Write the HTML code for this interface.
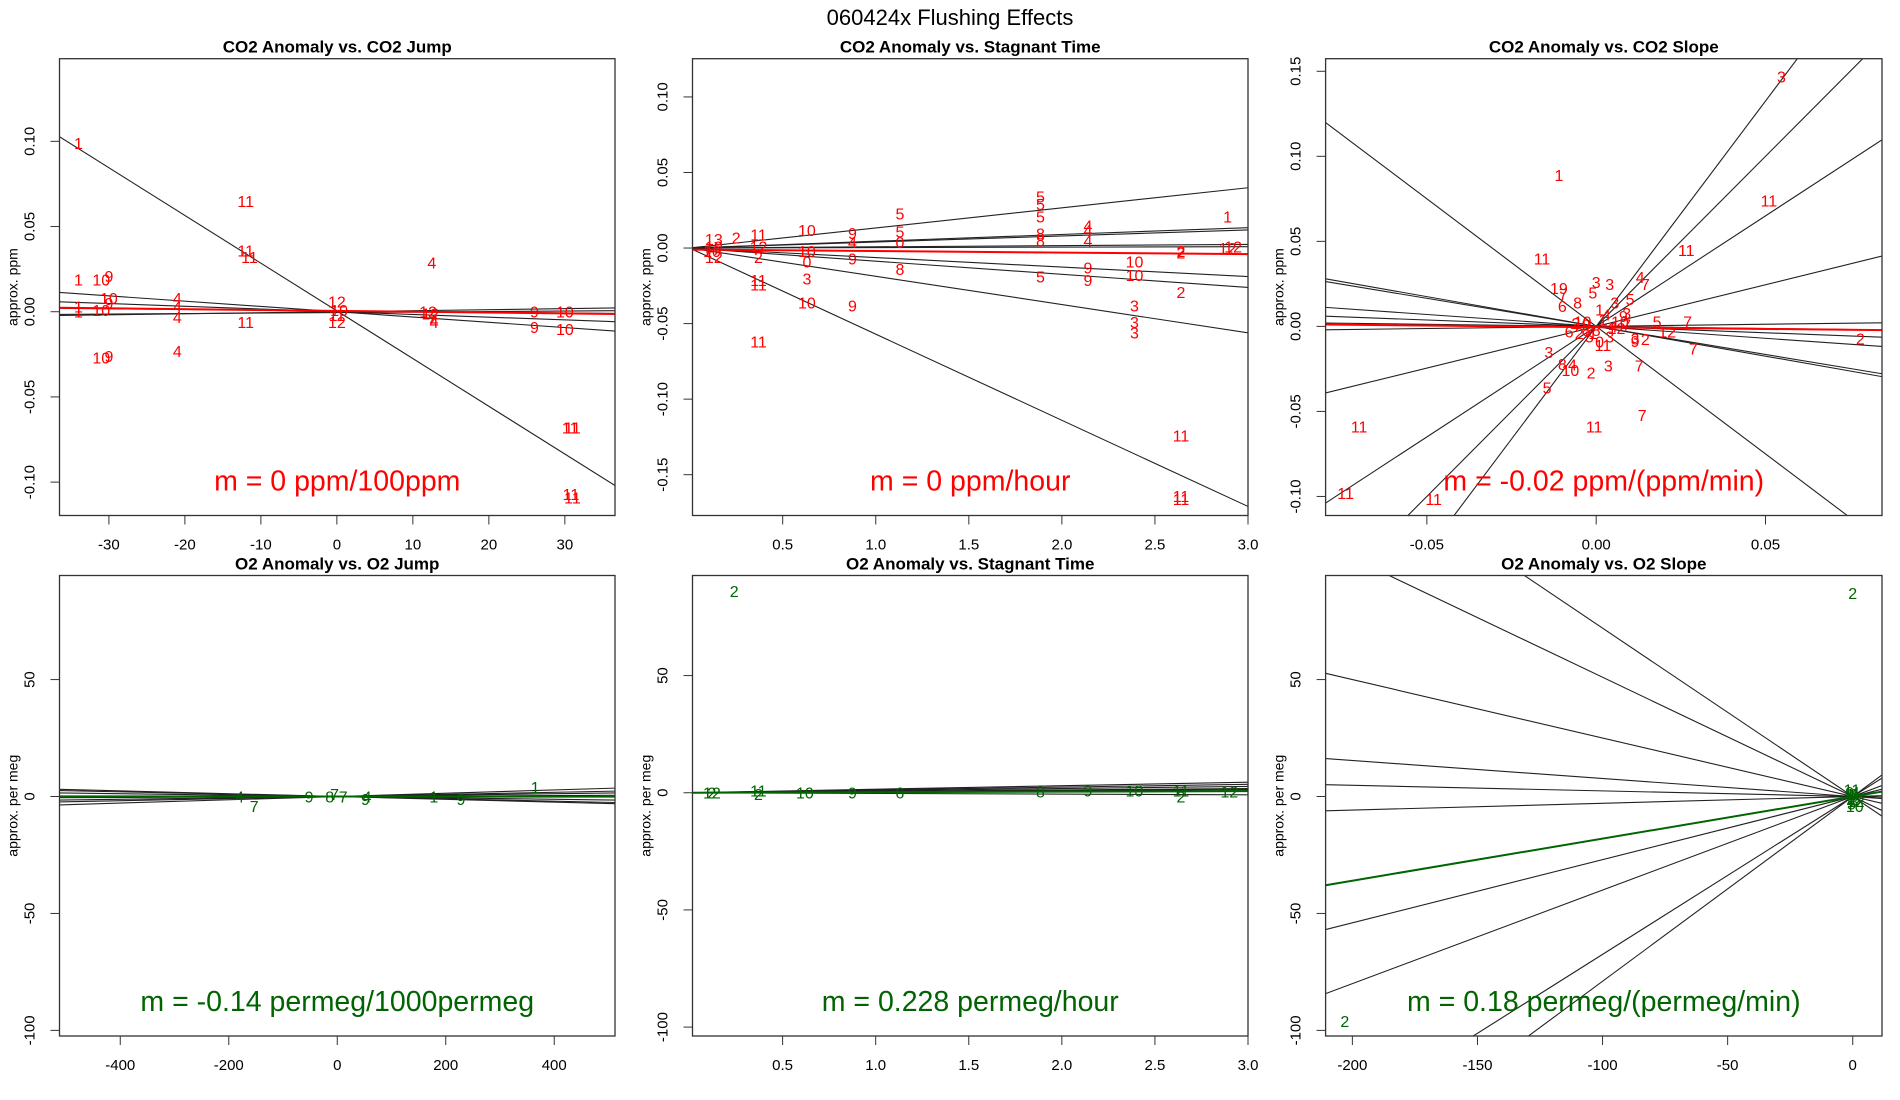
<!DOCTYPE html>
<html><head><meta charset="utf-8"><style>
html,body{margin:0;padding:0;background:#fff;width:1900px;height:1100px;overflow:hidden;}
svg{display:block;font-family:"Liberation Sans",sans-serif;}
</style></head><body>
<svg id="chart" width="1900" height="1100" viewBox="0 0 1900 1100" xmlns="http://www.w3.org/2000/svg">
<rect width="1900" height="1100" fill="#fff"/>
<text x="950" y="25" font-size="22" text-anchor="middle">060424x    Flushing Effects</text>
</svg>
<script>
// ---------- Panel 1: CO2 Anomaly vs CO2 Jump ----------
const p1Labels=["1","11","11","11","1","10","9","10","9","1","1","10","4","4","4","11","4","10","9","12","12","10","11","4","12","12","4","4","9","9","10","10","11","11","11","11"];
const p1X=[-34,-12,-12,-11.5,-34,-31,-30,-30,-30,-34,-34,-31,-21,-21,-21,-12,-21,-31,-30,0,0,0.3,0,12.5,12,12.3,12.8,12.8,26,26,30,30,31,30.7,31,30.8];
const p1Y=[0.099,0.065,0.036,0.032,0.019,0.019,0.021,0.008,0.005,0.003,0,0.001,0.008,0.003,-0.003,-0.006,-0.023,-0.027,-0.026,0.006,-0.006,0.001,-0.002,0.029,0,-0.001,-0.005,-0.006,0,-0.009,0,-0.01,-0.068,-0.068,-0.109,-0.107];
const p1Slopes=[-0.0028,-0.00031,-0.00016,0.00006,-0.00004,0.00003];
const p1Ints=[0.0005,0,0,0,0.0005,-0.0005];
const p1Fit=[0.0005,-0.00005];
const p1XTicks=[-30,-20,-10,0,10,20,30];
const p1YTicks=[-0.10,-0.05,0.00,0.05,0.10];
const p1YTickLabels=["-0.10","-0.05","0.00","0.05","0.10"];

// ---------- Panel 2: CO2 Anomaly vs Stagnant Time ----------
const p2Labels=["13","2","11","10","9","5","5","5","5","5","8","4","4","1","12","2","12","2","10","0","9","8","11","11","3","10","9","11","5","9","9","10","10","2","3","3","3","11","11","11","4","0","8","10","12","2","10","4","12"];
const p2X=[0.13,0.25,0.37,0.63,0.875,1.13,1.13,1.885,1.885,1.885,1.885,2.14,2.14,2.89,2.89,2.64,0.13,0.37,0.63,0.63,0.875,1.13,0.37,0.37,0.63,0.63,0.875,0.37,1.885,2.14,2.14,2.39,2.39,2.64,2.39,2.39,2.39,2.64,2.64,2.64,0.875,1.13,1.885,0.13,2.92,2.64,0.12,2.14,0.37];
const p2Y=[0.006,0.007,0.009,0.012,0.010,0.023,0.011,0.034,0.029,0.021,0.0095,0.015,0.005,0.021,0,-0.002,-0.006,-0.006,-0.002,-0.009,-0.007,-0.014,-0.021,-0.024,-0.020,-0.036,-0.038,-0.062,-0.019,-0.013,-0.021,-0.009,-0.018,-0.029,-0.038,-0.049,-0.056,-0.124,-0.164,-0.166,0.004,0.004,0.005,0.001,0.001,-0.003,-0.002,0.012,0.001];
const p2Slopes=[0.0133,0.0045,0.004,0.0008,0.0003,-0.0063,-0.0087,-0.0187,-0.057];
const p2Ints=[0,0,0,0,0,0,0,0,0];
const p2Fit=[-0.001,-0.001];
const p2XTicks=[0.5,1.0,1.5,2.0,2.5,3.0];
const p2XTickLabels=["0.5","1.0","1.5","2.0","2.5","3.0"];
const p2YTicks=[-0.15,-0.10,-0.05,0.00,0.05,0.10];
const p2YTickLabels=["-0.15","-0.10","-0.05","0.00","0.05","0.10"];

// ---------- Panel 3: CO2 Anomaly vs CO2 Slope ----------
const p3Labels=["3","1","11","11","11","19","7","3","3","5","4","7","5","8","6","3","1","5","7","12","2","7","3","8","4","10","2","3","7","5","7","11","11","11","11","3","9","2","2","10","8","4","1","9","6","12","3","5","0","1","7","2","4","10","11","9","8","3"];
const p3X=[0.0547,-0.011,0.051,0.0266,-0.016,-0.011,-0.0097,0,0.004,-0.001,0.013,0.0145,0.010,-0.0055,-0.010,0.0055,0.001,0.018,0.027,0.021,0.078,0.0287,-0.014,-0.010,-0.007,-0.0076,-0.0015,0.0036,0.0127,-0.0145,0.0136,-0.0006,-0.070,-0.074,-0.048,0.0115,0.0115,0.0145,-0.006,-0.004,-0.003,0.003,0.002,0.008,-0.008,0.006,0.004,-0.002,0.001,-0.001,0.009,-0.005,0.005,0.007,0.002,-0.003,0.0,0.009];
const p3Y=[0.147,0.089,0.074,0.045,0.040,0.0225,0.019,0.026,0.025,0.020,0.029,0.025,0.016,0.014,0.012,0.014,0.010,0.003,0.003,-0.003,-0.007,-0.013,-0.015,-0.022,-0.0225,-0.0256,-0.027,-0.023,-0.023,-0.036,-0.052,-0.059,-0.059,-0.098,-0.1015,-0.007,-0.0085,-0.0075,0.002,0.003,-0.002,0.007,0.004,0.006,-0.003,-0.001,-0.006,-0.006,-0.009,-0.004,0.001,-0.004,0.0,0.003,-0.011,0.001,-0.002,0.008];
const p3Slopes=[2.65,2.0,1.3,0.49,-1.5,-0.35,-0.33,-0.14,-0.075,-0.025,0.025];
const p3Ints=[0,0,0,0,0,0,0,0,0,0,0];
const p3Fit=[-0.0005,-0.02];
const p3XTicks=[-0.05,0,0.05];
const p3XTickLabels=["-0.05","0.00","0.05"];
const p3YTicks=[-0.10,-0.05,0.00,0.05,0.10,0.15];
const p3YTickLabels=["-0.10","-0.05","0.00","0.05","0.10","0.15"];

// ---------- Panel 4: O2 Anomaly vs O2 Jump ----------
const p4Labels=["4","7","9","8","7","9","1","9","1","7","4"];
const p4X=[-180,-153,-52,-14,11,52,178,228,365,-5,55];
const p4Y=[0,-4,0,0,0,-1,0,-1,4,1,0];
const p4Slopes=[0.007,-0.005,0.003,-0.003,0.001,-0.006,0.0045];
const p4Ints=[0,0,0,0,0,0,0];
const p4Fit=[0,-0.00014];
const p4XTicks=[-400,-200,0,200,400];
const p4YTicks=[-100,-50,0,50];

// ---------- Panel 5: O2 Anomaly vs Stagnant Time ----------
const p5Labels=["12","2","11","2","10","9","6","8","9","10","11","2","12","2"];
const p5X=[0.12,0.12,0.37,0.37,0.62,0.875,1.13,1.885,2.14,2.39,2.64,2.64,2.9,0.24];
const p5Y=[0,0,1,-0.5,0,0,0,0.5,1,1,1,-1.5,0.5,86];
const p5Slopes=[0.3,0.6,0.9,1.2,1.5,-0.3,0.45];
const p5Ints=[0,0,0,0,0,0,0];
const p5Fit=[0,0.228];
const p5XTicks=[0.5,1.0,1.5,2.0,2.5,3.0];
const p5XTickLabels=["0.5","1.0","1.5","2.0","2.5","3.0"];
const p5YTicks=[-100,-50,0,50];

// ---------- Panel 6: O2 Anomaly vs O2 Slope ----------
const p6Labels=["2","2","1","3","4","5","7","8","9","10","11","12","6","2"];
const p6X=[0,-203,-1,0.5,1,-0.5,0,1.5,-1.2,0.8,-0.3,1.2,0.2,-0.8];
const p6Y=[87,-96,1,-2,2,-3,0,-1,2,-4,3,-2,1,-1];
const p6Slopes=[-0.51,-0.72,-0.25,-0.077,-0.024,0.029,0.27,0.40,0.675,0.79];
const p6Ints=[0,0,0,0,0,0,0,0,0,0];
const p6Fit=[0,0.18];
const p6XTicks=[-200,-150,-100,-50,0];
const p6YTicks=[-100,-50,0,50];

const NS="http://www.w3.org/2000/svg";
const svg=document.getElementById("chart");
function mk(tag,attrs,parent){const e=document.createElementNS(NS,tag);for(const k in attrs)e.setAttribute(k,attrs[k]);(parent||svg).appendChild(e);return e;}

function panel(id,box,xlim,ylim,title,ylab,labels,xs,ys,slopes,ints,fit,color,xt,xtl,yt,ytl,ann){
  const g=mk("g",{});
  
  
  const [L,R,T,B]=box;
  const sx=v=>L+(v-xlim[0])/(xlim[1]-xlim[0])*(R-L);
  const sy=v=>B-(v-ylim[0])/(ylim[1]-ylim[0])*(B-T);
  const cp=mk("clipPath",{id:id+"-clip"},g);
  mk("rect",{x:L,y:T,width:R-L,height:B-T},cp);
  const plot=mk("g",{"clip-path":"url(#"+id+"-clip)"},g);
  for(let i=0;i<slopes.length;i++){
    const l=mk("line",{x1:sx(xlim[0]),y1:sy(ints[i]+slopes[i]*xlim[0]),x2:sx(xlim[1]),y2:sy(ints[i]+slopes[i]*xlim[1]),stroke:"#222","stroke-width":1.1},plot);
    
    
  }
  const fl=mk("line",{x1:sx(xlim[0]),y1:sy(fit[0]+fit[1]*xlim[0]),x2:sx(xlim[1]),y2:sy(fit[0]+fit[1]*xlim[1]),stroke:color,"stroke-width":2},plot);
  
  
  for(let i=0;i<labels.length;i++){
    const t=mk("text",{x:sx(xs[i]),y:sy(ys[i])+6,"font-size":16,"text-anchor":"middle",fill:color},plot);
    t.textContent=labels[i];
    
    
  }
  const bx=mk("rect",{x:L,y:T,width:R-L,height:B-T,fill:"none",stroke:"#333","stroke-width":1.3},g);
  
  
  for(let i=0;i<xt.length;i++){
    const x=sx(xt[i]);
    mk("line",{x1:x,y1:B,x2:x,y2:B+9,stroke:"#333","stroke-width":1},g);
    const t=mk("text",{x:x,y:B+34,"font-size":15,"text-anchor":"middle"},g);
    t.textContent=xtl?xtl[i]:String(xt[i]);
    
    
  }
  for(let i=0;i<yt.length;i++){
    const y=sy(yt[i]);
    mk("line",{x1:L,y1:y,x2:L-9,y2:y,stroke:"#333","stroke-width":1},g);
    const t=mk("text",{x:0,y:0,"font-size":15,"text-anchor":"middle",transform:"translate("+(L-25)+","+y+") rotate(-90)"},g);
    t.textContent=ytl?ytl[i]:String(yt[i]);
    
    
  }
  const yl=mk("text",{x:0,y:0,"font-size":14,"text-anchor":"middle",transform:"translate("+(L-42)+","+((T+B)/2)+") rotate(-90)"},g);
  yl.textContent=ylab;
  
  
  const tt=mk("text",{x:(L+R)/2,y:T-6,"font-size":17,"font-weight":"bold","text-anchor":"middle"},g);
  tt.textContent=title;
  
  
  const an=mk("text",{x:(L+R)/2,y:B-25,"font-size":28.5,"text-anchor":"middle",fill:color},g);
  an.textContent=ann;
  
  
}
const RED="#ff0000",GRN="#006400";
const C1=[59.5,615],C2=[692.5,1248],C3=[1325.6,1882];
const R1=[58.7,515.5],R2=[575.5,1036];
panel("panel-co2-jump",[C1[0],C1[1],R1[0],R1[1]],[-36.5,36.6],[-0.1196,0.1485],"CO2 Anomaly vs. CO2 Jump","approx. ppm",p1Labels,p1X,p1Y,p1Slopes,p1Ints,p1Fit,RED,p1XTicks,null,p1YTicks,p1YTickLabels,"m = 0 ppm/100ppm");
panel("panel-co2-stagnant",[C2[0],C2[1],R1[0],R1[1]],[0.0154,3.0],[-0.177,0.1253],"CO2 Anomaly vs. Stagnant Time","approx. ppm",p2Labels,p2X,p2Y,p2Slopes,p2Ints,p2Fit,RED,p2XTicks,p2XTickLabels,p2YTicks,p2YTickLabels,"m = 0 ppm/hour");
panel("panel-co2-slope",[C3[0],C3[1],R1[0],R1[1]],[-0.0799,0.0844],[-0.1112,0.1574],"CO2 Anomaly vs. CO2 Slope","approx. ppm",p3Labels,p3X,p3Y,p3Slopes,p3Ints,p3Fit,RED,p3XTicks,p3XTickLabels,p3YTicks,p3YTickLabels,"m = -0.02 ppm/(ppm/min)");
panel("panel-o2-jump",[C1[0],C1[1],R2[0],R2[1]],[-512,512],[-102.4,94.5],"O2 Anomaly vs. O2 Jump","approx. per meg",p4Labels,p4X,p4Y,p4Slopes,p4Ints,p4Fit,GRN,p4XTicks,null,p4YTicks,null,"m = -0.14 permeg/1000permeg");
panel("panel-o2-stagnant",[C2[0],C2[1],R2[0],R2[1]],[0.016,3.0],[-103.8,92.7],"O2 Anomaly vs. Stagnant Time","approx. per meg",p5Labels,p5X,p5Y,p5Slopes,p5Ints,p5Fit,GRN,p5XTicks,p5XTickLabels,p5YTicks,null,"m = 0.228 permeg/hour");
panel("panel-o2-slope",[C3[0],C3[1],R2[0],R2[1]],[-210.7,11.7],[-102.4,94.5],"O2 Anomaly vs. O2 Slope","approx. per meg",p6Labels,p6X,p6Y,p6Slopes,p6Ints,p6Fit,GRN,p6XTicks,null,p6YTicks,null,"m = 0.18 permeg/(permeg/min)");
</script>
</body></html>
